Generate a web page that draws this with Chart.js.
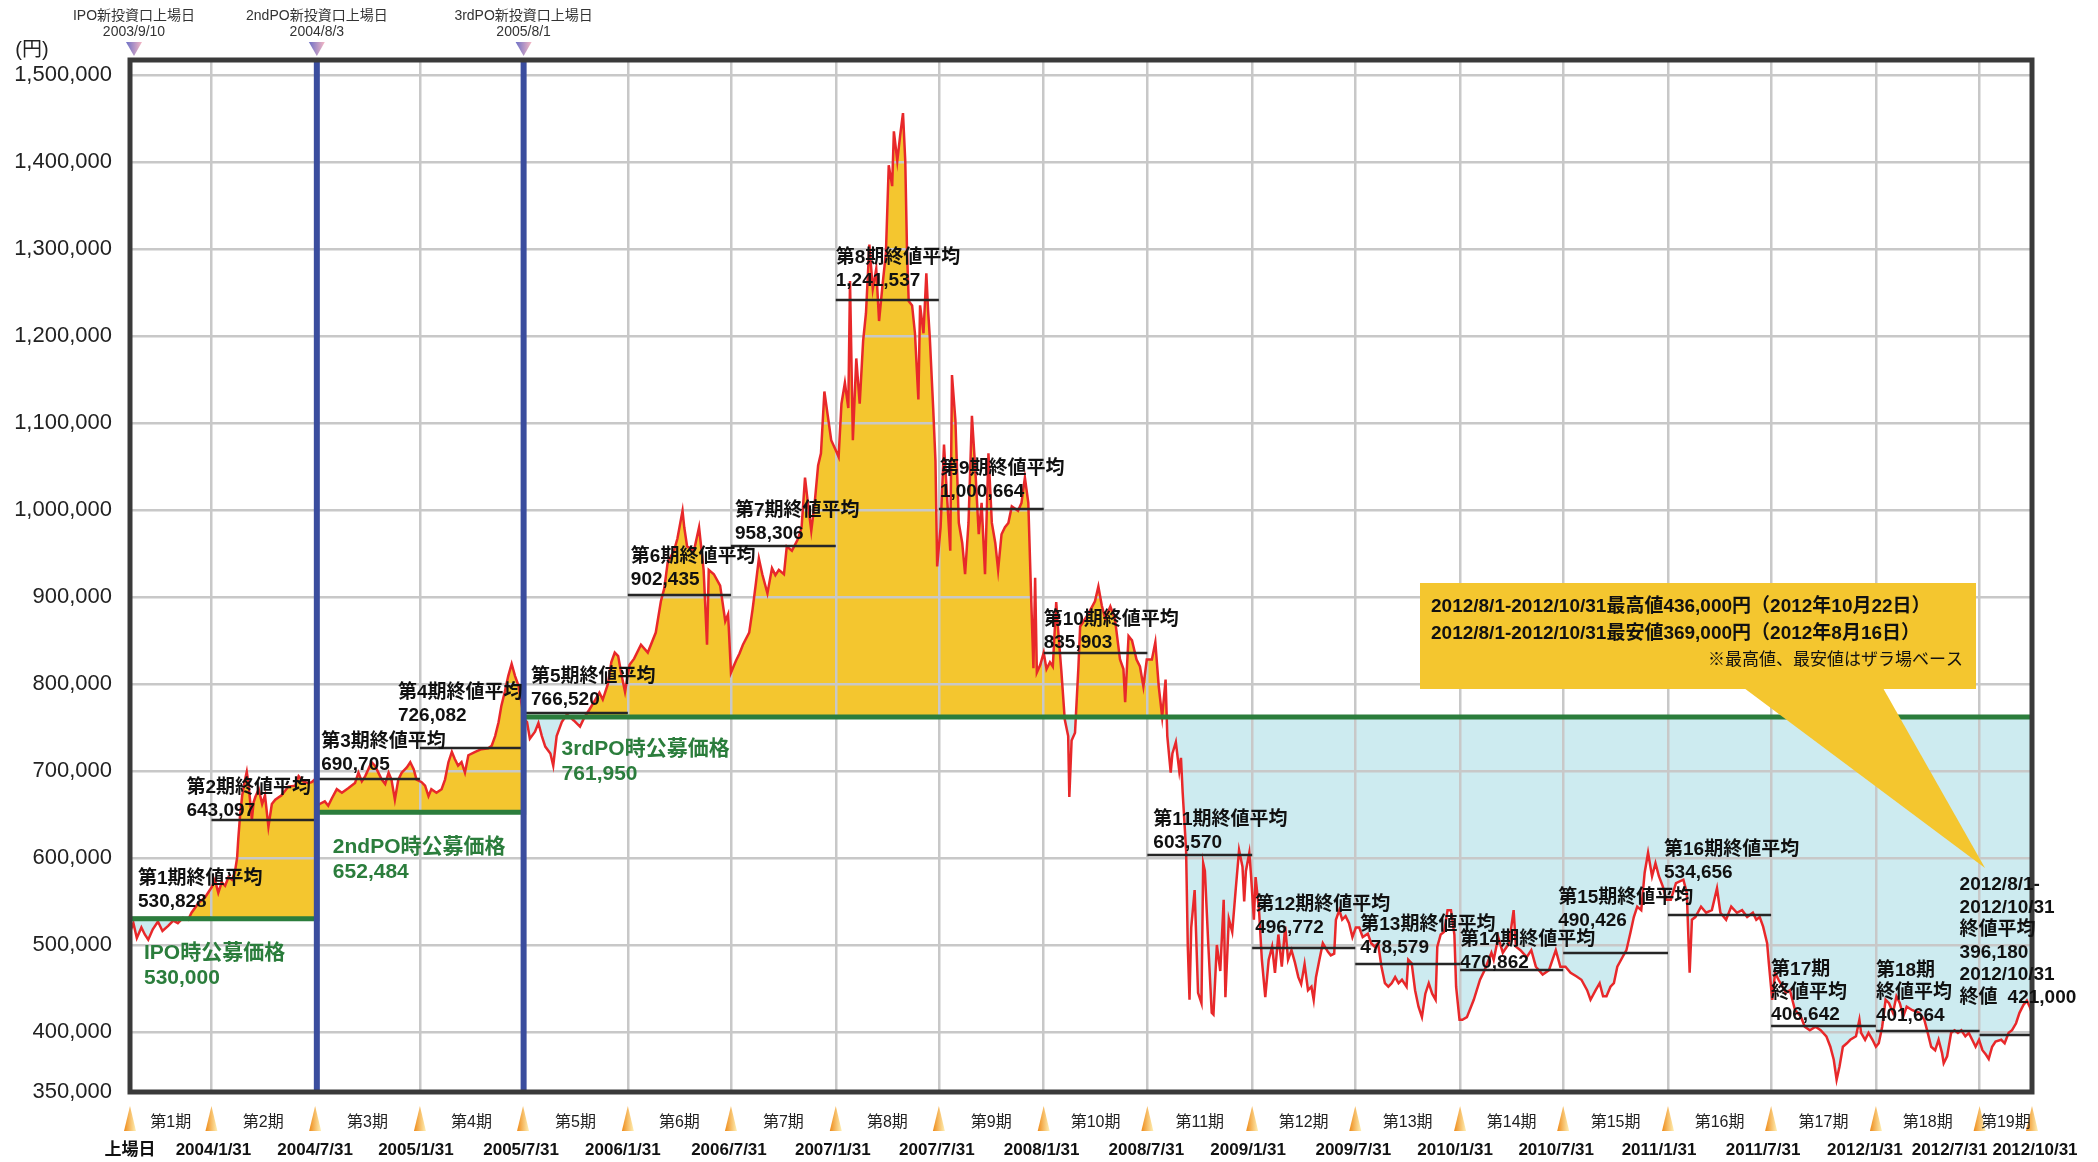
<!DOCTYPE html>
<html lang="ja">
<head>
<meta charset="utf-8">
<title>投資口価格の推移</title>
<script src="https://cdn.jsdelivr.net/npm/chart.js@4.4.1/dist/chart.umd.min.js"></script>
<style>
  html, body { margin: 0; padding: 0; background: #fff; }
  #wrap { position: relative; width: 2098px; height: 1162px; }
</style>
</head>
<body>
<div id="wrap"><canvas id="priceChart"></canvas></div>
<script>
// closing prices (yen)
const priceDates = [
  '2003-09-10','2003-09-16','2003-09-22','2003-09-30','2003-10-06','2003-10-12','2003-10-20','2003-10-29','2003-11-06','2003-11-16','2003-11-25','2003-12-03','2003-12-12','2003-12-21','2003-12-27','2004-01-08','2004-01-20','2004-01-27',
  '2004-02-01','2004-02-06','2004-02-12','2004-02-18','2004-02-24','2004-03-01','2004-03-07','2004-03-12','2004-03-16','2004-03-18','2004-03-21','2004-03-25','2004-03-30','2004-04-02','2004-04-05','2004-04-11','2004-04-14','2004-04-17','2004-04-23','2004-04-29','2004-05-04','2004-05-10','2004-05-16','2004-05-22','2004-06-02','2004-06-14','2004-06-26','2004-07-02','2004-07-10','2004-07-19','2004-07-25','2004-07-30',
  '2004-08-04','2004-08-08','2004-08-17','2004-08-23','2004-08-29','2004-09-07','2004-09-16','2004-09-27','2004-10-09','2004-10-15','2004-10-21','2004-10-27','2004-11-07','2004-11-13','2004-11-19','2004-11-25','2004-12-01','2004-12-07','2004-12-12','2004-12-18','2004-12-24','2004-12-30','2005-01-08','2005-01-14','2005-01-20','2005-01-25',
  '2005-02-03','2005-02-09','2005-02-15','2005-02-20','2005-03-01','2005-03-10','2005-03-16','2005-03-22','2005-03-28','2005-04-02','2005-04-08','2005-04-14','2005-04-20','2005-04-26','2005-05-08','2005-05-19','2005-05-31','2005-06-06','2005-06-12','2005-06-18','2005-06-23','2005-06-29','2005-07-05','2005-07-11','2005-07-17','2005-07-23','2005-07-29',
  '2005-08-01','2005-08-07','2005-08-12','2005-08-21','2005-08-27','2005-09-02','2005-09-08','2005-09-17','2005-09-22','2005-09-28','2005-10-07','2005-10-16','2005-10-28','2005-11-08','2005-11-16','2005-11-24','2005-12-05','2005-12-12','2005-12-18','2005-12-27','2006-01-02','2006-01-08','2006-01-14','2006-01-20','2006-01-26',
  '2006-02-03','2006-02-11','2006-02-23','2006-03-07','2006-03-21','2006-03-30','2006-04-05','2006-04-11','2006-04-22','2006-04-28','2006-05-07','2006-05-10','2006-05-15','2006-05-27','2006-06-05','2006-06-13','2006-06-19','2006-06-22','2006-07-01','2006-07-12','2006-07-21','2006-07-26','2006-07-31',
  '2006-08-09','2006-08-15','2006-08-21','2006-09-01','2006-09-07','2006-09-13','2006-09-18','2006-09-24','2006-10-03','2006-10-11','2006-10-17','2006-10-23','2006-11-01','2006-11-06','2006-11-15','2006-11-26','2006-12-02','2006-12-08','2006-12-13','2006-12-19','2006-12-25','2006-12-31','2007-01-05','2007-01-11','2007-01-17','2007-01-23','2007-01-30',
  '2007-02-05','2007-02-10','2007-02-16','2007-02-22','2007-02-25','2007-03-02','2007-03-08','2007-03-14','2007-03-20','2007-03-25','2007-03-31','2007-04-06','2007-04-12','2007-04-17','2007-04-23','2007-04-29','2007-05-04','2007-05-10','2007-05-13','2007-05-19','2007-05-24','2007-05-29','2007-06-02','2007-06-05','2007-06-08','2007-06-14','2007-06-19','2007-06-25','2007-06-28','2007-07-04','2007-07-09','2007-07-12','2007-07-15','2007-07-21','2007-07-25','2007-07-28',
  '2007-08-03','2007-08-09','2007-08-15','2007-08-20','2007-08-23','2007-08-29','2007-09-04','2007-09-10','2007-09-15','2007-09-21','2007-09-27','2007-10-03','2007-10-09','2007-10-14','2007-10-20','2007-10-26','2007-11-01','2007-11-07','2007-11-12','2007-11-18','2007-11-24','2007-11-30','2007-12-06','2007-12-17','2007-12-23','2007-12-29','2008-01-04','2008-01-09','2008-01-13','2008-01-16','2008-01-19','2008-01-25','2008-01-31',
  '2008-02-05','2008-02-11','2008-02-16','2008-02-22','2008-02-25','2008-03-02','2008-03-08','2008-03-14','2008-03-16','2008-03-20','2008-03-26','2008-04-01','2008-04-04','2008-04-10','2008-04-16','2008-04-22','2008-04-30','2008-05-06','2008-05-12','2008-05-18','2008-05-27','2008-06-04','2008-06-13','2008-06-19','2008-06-22','2008-06-28','2008-07-04','2008-07-12','2008-07-18','2008-07-24','2008-07-30',
  '2008-08-08','2008-08-14','2008-08-20','2008-08-26','2008-09-01','2008-09-04','2008-09-10','2008-09-13','2008-09-19','2008-09-25','2008-09-28','2008-10-01','2008-10-07','2008-10-10','2008-10-13','2008-10-16','2008-10-22','2008-10-28','2008-11-03','2008-11-06','2008-11-09','2008-11-15','2008-11-21','2008-11-24','2008-11-30','2008-12-06','2008-12-12','2008-12-15','2008-12-21','2008-12-27','2009-01-02','2009-01-08','2009-01-14','2009-01-17','2009-01-20','2009-01-26','2009-01-29',
  '2009-02-03','2009-02-06','2009-02-12','2009-02-17','2009-02-23','2009-03-01','2009-03-07','2009-03-12','2009-03-18','2009-03-24','2009-03-30','2009-04-04','2009-04-10','2009-04-16','2009-04-22','2009-04-27','2009-05-03','2009-05-09','2009-05-15','2009-05-19','2009-05-23','2009-05-29','2009-06-04','2009-06-13','2009-06-18','2009-06-24','2009-06-27','2009-07-03','2009-07-08','2009-07-14','2009-07-20','2009-07-26',
  '2009-08-01','2009-08-07','2009-08-13','2009-08-22','2009-08-28','2009-09-03','2009-09-09','2009-09-15','2009-09-21','2009-09-27','2009-10-03','2009-10-09','2009-10-15','2009-10-21','2009-10-29','2009-11-01','2009-11-07','2009-11-13','2009-11-19','2009-11-25','2009-12-01','2009-12-07','2009-12-13','2009-12-19','2009-12-22','2009-12-28','2010-01-03','2010-01-09','2010-01-15','2010-01-21','2010-01-24','2010-01-30',
  '2010-02-04','2010-02-12','2010-02-24','2010-03-07','2010-03-15','2010-03-27','2010-03-31','2010-04-08','2010-04-16','2010-04-27','2010-05-05','2010-05-09','2010-05-17','2010-05-28','2010-06-05','2010-06-13','2010-06-25','2010-07-06','2010-07-18','2010-07-26',
  '2010-08-04','2010-08-13','2010-08-23','2010-09-01','2010-09-11','2010-09-17','2010-09-26','2010-10-03','2010-10-09','2010-10-15','2010-10-22','2010-10-28','2010-11-03','2010-11-13','2010-11-19','2010-11-26','2010-12-02','2010-12-08','2010-12-15','2010-12-21','2010-12-27','2011-01-03','2011-01-09','2011-01-15','2011-01-22','2011-01-28',
  '2011-02-05','2011-02-14','2011-02-27','2011-03-05','2011-03-10','2011-03-14','2011-03-20','2011-03-30','2011-04-08','2011-04-18','2011-04-27','2011-05-03','2011-05-13','2011-05-22','2011-06-01','2011-06-10','2011-06-19','2011-06-29','2011-07-05','2011-07-11','2011-07-17','2011-07-24','2011-07-27',
  '2011-08-02','2011-08-07','2011-08-13','2011-08-20','2011-08-26','2011-09-02','2011-09-11','2011-09-21','2011-09-28','2011-10-07','2011-10-17','2011-10-26','2011-11-05','2011-11-12','2011-11-18','2011-11-23','2011-11-28','2011-12-04','2011-12-11','2011-12-17','2011-12-27','2012-01-02','2012-01-05','2012-01-12','2012-01-18','2012-01-25','2012-01-31',
  '2012-02-05','2012-02-11','2012-02-17','2012-02-23','2012-03-01','2012-03-07','2012-03-13','2012-03-19','2012-03-25','2012-04-04','2012-04-16','2012-04-25','2012-05-01','2012-05-07','2012-05-14','2012-05-20','2012-05-26','2012-05-29','2012-06-04','2012-06-11','2012-06-17','2012-06-23','2012-06-29','2012-07-06','2012-07-12','2012-07-18','2012-07-24','2012-07-30',
  '2012-08-05','2012-08-11','2012-08-16','2012-08-22','2012-08-28','2012-09-07','2012-09-13','2012-09-20','2012-09-26','2012-10-03','2012-10-09','2012-10-16','2012-10-22','2012-10-27','2012-10-31'
];
const priceValues = [
  515000,525000,508000,520000,512000,506000,518000,527000,516000,522000,528000,525000,531000,529000,537000,548000,555000,562000,
  567000,575000,560000,572000,568000,578000,575000,583000,600000,621000,647000,672000,690000,699000,685000,644000,664000,670000,679000,662000,672000,636000,662000,667000,672000,682000,683000,694000,688000,686000,687000,690000,
  660000,662000,665000,660000,668000,679000,675000,680000,686000,698000,688000,694000,710000,706000,698000,690000,685000,698000,690000,667000,690000,698000,704000,710000,702000,690000,
  687000,683000,671000,679000,675000,679000,690000,710000,722000,714000,706000,710000,698000,718000,722000,725000,726000,729000,740000,756000,775000,791000,809000,823000,809000,798000,775000,
  760000,756000,737000,745000,755000,740000,728000,720000,706000,740000,756000,765000,758000,751000,762000,770000,782000,790000,782000,800000,825000,836000,832000,810000,791000,
  822000,829000,845000,836000,859000,895000,910000,940000,953000,967000,999000,980000,958000,953000,980000,931000,845000,931000,926000,913000,872000,880000,813000,
  827000,835000,845000,859000,886000,917000,944000,926000,904000,933000,925000,931000,926000,958000,953000,967000,980000,1037000,1008000,976000,1008000,1051000,1065000,1136000,1108000,1080000,1070000,
  1061000,1122000,1146000,1117000,1263000,1080000,1174000,1122000,1194000,1226000,1305000,1254000,1277000,1217000,1258000,1295000,1396000,1372000,1435000,1401000,1430000,1456000,1401000,1300000,1240000,1235000,1203000,1127000,1235000,1203000,1272000,1230000,1199000,1117000,1056000,935000,
  980000,1075000,1008000,953000,1155000,1103000,985000,962000,926000,985000,1108000,1046000,972000,1008000,926000,1065000,985000,962000,931000,972000,980000,985000,1004000,999000,1008000,1037000,1008000,899000,818000,922000,813000,822000,836000,
  817000,825000,820000,894000,865000,815000,759000,740000,670000,735000,744000,820000,866000,872000,878000,885000,895000,912000,890000,875000,889000,875000,828000,817000,779000,855000,850000,828000,820000,797000,828000,
  828000,848000,797000,762000,805000,740000,698000,720000,733000,700000,715000,675000,609000,498000,437000,520000,563000,445000,433000,594000,585000,500000,422000,420000,500000,470000,552000,440000,530000,515000,563000,609000,590000,550000,585000,606000,580000,
  529000,578000,540000,483000,440000,483000,498000,468000,512000,475000,521000,483000,494000,480000,463000,455000,478000,448000,452000,437000,463000,483000,502000,492000,488000,490000,529000,540000,529000,533000,525000,509000,
  520000,520000,509000,513000,502000,498000,502000,475000,456000,452000,456000,463000,456000,460000,452000,483000,479000,448000,429000,417000,444000,456000,444000,437000,498000,512000,515000,540000,540000,512000,452000,414000,
  414000,417000,437000,460000,471000,491000,483000,509000,491000,502000,540000,498000,494000,486000,494000,475000,466000,471000,494000,475000,
  475000,468000,464000,460000,448000,437000,448000,456000,441000,441000,452000,456000,475000,487000,494000,514000,532000,544000,540000,583000,606000,579000,594000,579000,567000,552000,
  552000,571000,575000,560000,468000,529000,532000,544000,537000,540000,565000,537000,529000,544000,537000,540000,532000,537000,529000,532000,521000,502000,479000,
  437000,468000,460000,452000,445000,448000,425000,418000,406000,402000,406000,402000,395000,383000,368000,345000,360000,383000,387000,391000,395000,414000,399000,391000,399000,391000,383000,
  387000,406000,437000,433000,422000,441000,433000,418000,429000,425000,422000,414000,399000,383000,379000,391000,376000,364000,372000,399000,402000,399000,402000,395000,399000,391000,383000,391000,
  379000,374000,369000,383000,389000,391000,387000,399000,402000,410000,422000,431000,436000,429000,421000
];

// fiscal periods
const boundaryDates = ['2003-09-10','2004-01-31','2004-07-31','2005-01-31','2005-07-31','2006-01-31','2006-07-31','2007-01-31','2007-07-31','2008-01-31','2008-07-31','2009-01-31','2009-07-31','2010-01-31','2010-07-31','2011-01-31','2011-07-31','2012-01-31','2012-07-31','2012-10-31'];
const boundaryLabels = ['上場日','2004/1/31','2004/7/31','2005/1/31','2005/7/31','2006/1/31','2006/7/31','2007/1/31','2007/7/31','2008/1/31','2008/7/31','2009/1/31','2009/7/31','2010/1/31','2010/7/31','2011/1/31','2011/7/31','2012/1/31','2012/7/31','2012/10/31'];
const periodLabels = ['第1期','第2期','第3期','第4期','第5期','第6期','第7期','第8期','第9期','第10期','第11期','第12期','第13期','第14期','第15期','第16期','第17期','第18期','第19期'];
const periodAverages = [530828,643097,690705,726082,766520,902435,958306,1241537,1000664,835903,603570,496772,478579,470862,490426,534656,406642,401664,396180];
const avgTitles = [
  ['第1期終値平均'],['第2期終値平均'],['第3期終値平均'],['第4期終値平均'],['第5期終値平均'],['第6期終値平均'],
  ['第7期終値平均'],['第8期終値平均'],['第9期終値平均'],['第10期終値平均'],['第11期終値平均'],['第12期終値平均'],
  ['第13期終値平均'],['第14期終値平均'],['第15期終値平均'],['第16期終値平均'],['第17期','終値平均'],['第18期','終値平均'],
  ['2012/8/1-','2012/10/31','終値平均']
];
const lastCloseDate = '2012/10/31';
const lastClose = 421000;

// offering prices
const offerDates = ['2003-09-10','2004-08-03','2005-08-01'];
const offerPrices = [530000,652484,761950];
const offerNames = ['IPO時公募価格','2ndPO時公募価格','3rdPO時公募価格'];
const offerMarkers = [['IPO新投資口上場日','2003/9/10'],['2ndPO新投資口上場日','2004/8/3'],['3rdPO新投資口上場日','2005/8/1']];

// y axis
const yTickValues = [331000,400000,500000,600000,700000,800000,900000,1000000,1100000,1200000,1300000,1400000,1500000];
const yTickLabels = ['350,000','400,000','500,000','600,000','700,000','800,000','900,000','1,000,000','1,100,000','1,200,000','1,300,000','1,400,000','1,500,000'];

const calloutLines = [
  '2012/8/1-2012/10/31最高値436,000円（2012年10月22日）',
  '2012/8/1-2012/10/31最安値369,000円（2012年8月16日）',
  '※最高値、最安値はザラ場ベース'
];

// label placement tweaks (px)
const avgLabelDx = [8,-25,6,-22,8,3,4,0,1,0,6,3,5,0,-5,-4,0,0,-20];
const avgLabelLift = [16,10,14,32,13,15,12,19,18,10,12,20,16,8,33,42,11,15,38];
const dateLabelDx = [0,2,0,-4,-2,-5,-2,-3,-2,-2,-1,-4,-2,-5,-7,-9,-8,-11,-30,3];
const offerLabelDx = [14,16,38];
const offerLabelDrop = [34,35,32];

const YELLOW = '#f4c62f';
const LIGHTBLUE = '#cdebf0';
const GREEN = '#2b7d3c';
const FONT = "'Liberation Sans', 'Noto Sans CJK JP', sans-serif";

const DAY0 = Date.UTC(2003, 8, 10);
const toDay = (s) => {
  const [y, m, d] = s.split('-').map(Number);
  return (Date.UTC(y, m - 1, d) - DAY0) / 86400000;
};
const fmt = (v) => v.toLocaleString('en-US');

const boundaryDays = boundaryDates.map(toDay);
const offerDays = offerDates.map(toDay);
const lastDay = boundaryDays[boundaryDays.length - 1];

const priceData = priceDates.map((d, i) => ({ x: toDay(d), y: priceValues[i] }));
// offering price level as a step line (new level starts on listing day)
const offerData = [];
offerPrices.forEach((p, i) => {
  const start = offerDays[i];
  const end = i < offerPrices.length - 1 ? offerDays[i + 1] - 0.5 : lastDay;
  offerData.push({ x: start, y: p }, { x: end, y: p });
});

const fillTri = (ctx, pts, x0, x1, c0, c1) => {
  const g = ctx.createLinearGradient(x0, 0, x1, 0);
  g.addColorStop(0, c0);
  g.addColorStop(1, c1);
  ctx.fillStyle = g;
  ctx.beginPath();
  ctx.moveTo(pts[0][0], pts[0][1]);
  ctx.lineTo(pts[1][0], pts[1][1]);
  ctx.lineTo(pts[2][0], pts[2][1]);
  ctx.closePath();
  ctx.fill();
};

const overlay = {
  id: 'overlay',
  afterDatasetDraw(chart, args) {
    // period average lines go between the price line and the offer line
    if (args.index !== 0) return;
    const { ctx, scales: { x, y } } = chart;
    ctx.save();
    ctx.strokeStyle = '#262626';
    ctx.lineWidth = 2.5;
    periodAverages.forEach((v, i) => {
      const py = Math.round(y.getPixelForValue(v));
      ctx.beginPath();
      ctx.moveTo(x.getPixelForValue(boundaryDays[i]), py);
      ctx.lineTo(x.getPixelForValue(boundaryDays[i + 1]), py);
      ctx.stroke();
    });
    ctx.restore();
  },
  afterDatasetsDraw(chart) {
    const { ctx, chartArea: a, scales: { x, y } } = chart;
    ctx.save();

    // listing day lines for 2nd and 3rd PO
    ctx.strokeStyle = '#3a4d9e';
    ctx.lineWidth = 6;
    offerDays.slice(1).forEach((d) => {
      const px = x.getPixelForValue(d);
      ctx.beginPath();
      ctx.moveTo(px, a.top);
      ctx.lineTo(px, a.bottom);
      ctx.stroke();
    });

    // frame
    ctx.strokeStyle = '#3a3a3a';
    ctx.lineWidth = 5;
    ctx.strokeRect(a.left, a.top, a.right - a.left, a.bottom - a.top);

    // average labels
    ctx.fillStyle = '#111';
    ctx.font = 'bold 19px ' + FONT;
    ctx.textAlign = 'left';
    ctx.textBaseline = 'middle';
    periodAverages.forEach((v, i) => {
      const lines = [...avgTitles[i], fmt(v)];
      const last = i === periodAverages.length - 1;
      if (last) lines.push(lastCloseDate, '終値');
      const lx = x.getPixelForValue(boundaryDays[i]) + avgLabelDx[i];
      const bottom = y.getPixelForValue(v) - avgLabelLift[i];
      const step = lines.length > 2 ? 22.5 : 23;
      lines.forEach((t, k) => {
        ctx.fillText(t, lx, bottom - (lines.length - 1 - k) * step);
      });
      if (last) ctx.fillText(fmt(lastClose), lx + 48, bottom);
    });

    // offer price labels
    ctx.fillStyle = GREEN;
    ctx.font = 'bold 21px ' + FONT;
    offerPrices.forEach((p, i) => {
      const lx = x.getPixelForValue(offerDays[i]) + offerLabelDx[i];
      const ly = y.getPixelForValue(p) + offerLabelDrop[i];
      ctx.fillText(offerNames[i], lx, ly);
      ctx.fillText(fmt(p), lx, ly + 25);
    });

    // callout
    ctx.fillStyle = YELLOW;
    ctx.fillRect(1420, 583, 556, 106);
    ctx.beginPath();
    ctx.moveTo(1744, 688);
    ctx.lineTo(1883, 688);
    ctx.lineTo(1985, 868);
    ctx.closePath();
    ctx.fill();
    ctx.fillStyle = '#111';
    ctx.font = 'bold 19px ' + FONT;
    ctx.textAlign = 'left';
    ctx.fillText(calloutLines[0], 1431, 607);
    ctx.fillText(calloutLines[1], 1431, 634);
    ctx.font = '17px ' + FONT;
    ctx.textAlign = 'right';
    ctx.fillText(calloutLines[2], 1963, 660);
    ctx.restore();
  },
  afterDraw(chart) {
    const { ctx, scales: { x } } = chart;
    ctx.save();
    ctx.textBaseline = 'middle';
    ctx.textAlign = 'center';

    // unit
    ctx.fillStyle = '#222';
    ctx.font = '20px ' + FONT;
    ctx.fillText('(円)', 32, 50);

    // listing markers on top
    offerDays.forEach((d, i) => {
      const cx = x.getPixelForValue(d) + (i === 0 ? 4 : 0);
      ctx.fillStyle = '#333';
      ctx.font = '14px ' + FONT;
      ctx.fillText(offerMarkers[i][0], cx, 16);
      ctx.fillText(offerMarkers[i][1], cx, 32);
      fillTri(ctx, [[cx - 8, 42], [cx + 8, 42], [cx, 56]], cx - 8, cx + 8, '#6c70c6', '#f6b8c4');
    });

    // period markers and labels along the bottom
    boundaryDays.forEach((d, i) => {
      const cx = x.getPixelForValue(d);
      fillTri(ctx, [[cx - 6, 1131], [cx, 1106], [cx + 6, 1131]], cx - 6, cx + 6, '#ee8a18', '#fff0b5');
      ctx.fillStyle = '#111';
      ctx.font = 'bold 17px ' + FONT;
      ctx.fillText(boundaryLabels[i], cx + dateLabelDx[i], 1150);
    });
    ctx.font = '16px ' + FONT;
    ctx.fillStyle = '#222';
    periodLabels.forEach((t, i) => {
      const cx = (x.getPixelForValue(boundaryDays[i]) + x.getPixelForValue(boundaryDays[i + 1])) / 2;
      ctx.fillText(t, cx, 1123);
    });
    ctx.restore();
  }
};

window.addEventListener('load', () => {
  const ctx = document.getElementById('priceChart');
  new Chart(ctx, {
    type: 'line',
    data: {
      datasets: [
        {
          label: '終値',
          data: priceData,
          borderColor: '#e8282a',
          borderWidth: 2.5,
          pointRadius: 0,
          tension: 0,
          order: 1,
          fill: { target: 1, above: YELLOW, below: LIGHTBLUE }
        },
        {
          label: '公募価格',
          data: offerData,
          borderColor: GREEN,
          borderWidth: 5,
          pointRadius: 0,
          tension: 0,
          order: 0,
          fill: false
        }
      ]
    },
    options: {
      responsive: true,
      maintainAspectRatio: false,
      devicePixelRatio: 1,
      animation: false,
      events: [],
      layout: { padding: { top: 60, right: 66, bottom: 70, left: 0 } },
      plugins: {
        legend: { display: false },
        tooltip: { enabled: false },
        filler: { drawTime: 'beforeDraw' }
      },
      scales: {
        x: {
          type: 'linear',
          min: 0,
          max: lastDay,
          afterBuildTicks: (axis) => { axis.ticks = boundaryDays.map((v) => ({ value: v })); },
          afterFit: (axis) => { axis.height = 0; },
          ticks: { display: false },
          grid: { color: '#c8c8c8', lineWidth: 2.5, drawTicks: false },
          border: { display: false }
        },
        y: {
          min: 331000,
          max: 1517000,
          afterBuildTicks: (axis) => { axis.ticks = yTickValues.map((v) => ({ value: v })); },
          afterFit: (axis) => { axis.width = 130; },
          ticks: {
            autoSkip: false,
            padding: 18,
            color: '#222',
            font: { family: "'Liberation Sans', sans-serif", size: 22 },
            callback: (v, i) => yTickLabels[i]
          },
          grid: { color: '#c8c8c8', lineWidth: 2.5, drawTicks: false },
          border: { display: false }
        }
      }
    },
    plugins: [overlay]
  });
});
</script>
</body>
</html>
